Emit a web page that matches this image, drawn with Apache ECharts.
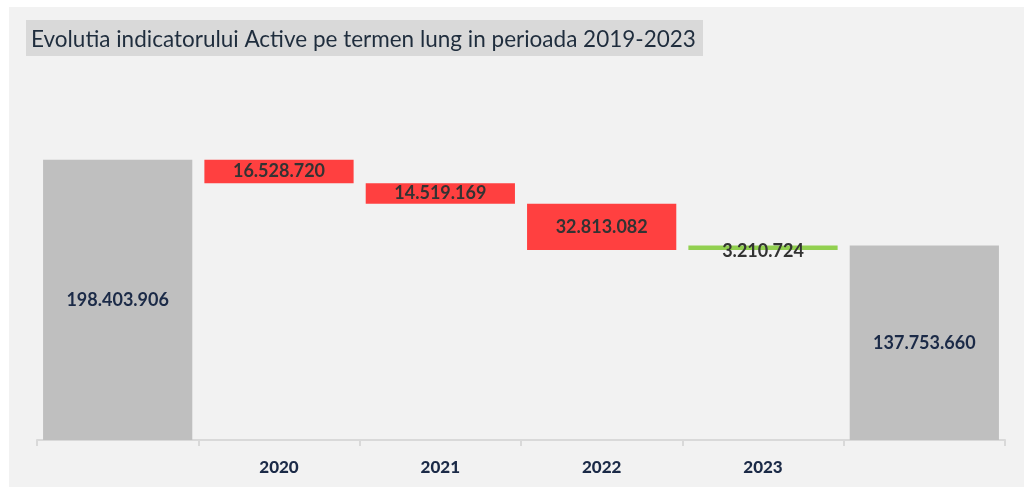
<!DOCTYPE html>
<html>
<head>
<meta charset="utf-8">
<style>
  html, body { margin: 0; padding: 0; background: #fff; }
  #chart { width: 1024px; height: 487px; }
</style>
<script src="https://cdn.jsdelivr.net/npm/echarts@6/dist/echarts.min.js"></script>
</head>
<body>
<div id="chart"></div>
<script>
// categorii (prima si ultima coloana sunt totalurile, fara eticheta)
var categories = ['', '2020', '2021', '2022', '2023', ''];
var totals = [198403906, null, null, null, null, 137753660];
var decreases = [null, 16528720, 14519169, 32813082, null, null];
var increases = [null, null, null, null, 3210724, null];

// baza invizibila pentru waterfall
var base = [];
var running = totals[0];
for (var i = 0; i < categories.length; i++) {
  if (totals[i] != null) {
    base.push(0);
  } else if (decreases[i] != null) {
    running = running - decreases[i];
    base.push(running);
  } else {
    base.push(running);
    running = running + increases[i];
  }
}

function fmt(v) {
  return String(v).replace(/\B(?=(\d{3})+(?!\d))/g, '.');
}

var chart = echarts.init(document.getElementById('chart'));

var labelStyle = {
  show: true,
  position: 'inside',
  fontFamily: 'Lato',
  fontWeight: 'bold',
  fontSize: 18,
  formatter: function (p) { return fmt(p.value); }
};

chart.setOption({
  backgroundColor: '#fff',
  animation: false,
  graphic: [
    { type: 'rect', left: 9, top: 7, shape: { width: 1015, height: 480 }, style: { fill: '#f2f2f2' }, z: -10 },
    { type: 'rect', left: 26, top: 20, shape: { width: 677, height: 36 }, style: { fill: '#d9d9d9' }, z: -9 }
  ],
  title: {
    text: 'Evolutia indicatorului Active pe termen lung in perioada 2019-2023',
    left: 26,
    top: 23,
    textStyle: {
      color: '#1f2d3d',
      fontFamily: 'Lato',
      fontWeight: 'normal',
      fontSize: 22.5
    }
  },
  grid: {
    left: 37,
    right: 19,
    top: 87,
    bottom: 47
  },
  xAxis: {
    type: 'category',
    data: categories,
    axisLine: { lineStyle: { color: '#d9d9d9', width: 2 } },
    axisTick: { show: true, length: 6, lineStyle: { color: '#d9d9d9', width: 2 } },
    axisLabel: {
      color: '#1b2a47',
      fontFamily: 'Lato',
      fontWeight: 900,
      fontSize: 17,
      margin: 19
    }
  },
  yAxis: {
    type: 'value',
    min: 0,
    max: 250000000,
    show: false,
    splitLine: { show: false }
  },
  series: [
    {
      name: 'base',
      type: 'bar',
      stack: 'w',
      barCategoryGap: '7.5%',
      itemStyle: { color: 'transparent' },
      data: base,
      silent: true
    },
    {
      name: 'Total',
      type: 'bar',
      stack: 'w',
      itemStyle: { color: '#bfbfbf' },
      label: Object.assign({}, labelStyle, { color: '#1b2a47' }),
      data: totals
    },
    {
      name: 'Scadere',
      type: 'bar',
      stack: 'w',
      itemStyle: { color: '#ff4040' },
      label: Object.assign({}, labelStyle, { color: '#333333' }),
      data: decreases
    },
    {
      name: 'Crestere',
      type: 'bar',
      stack: 'w',
      itemStyle: { color: '#92d050' },
      label: Object.assign({}, labelStyle, { color: '#333333', offset: [0, 3] }),
      data: increases
    }
  ]
});
</script>
</body>
</html>
